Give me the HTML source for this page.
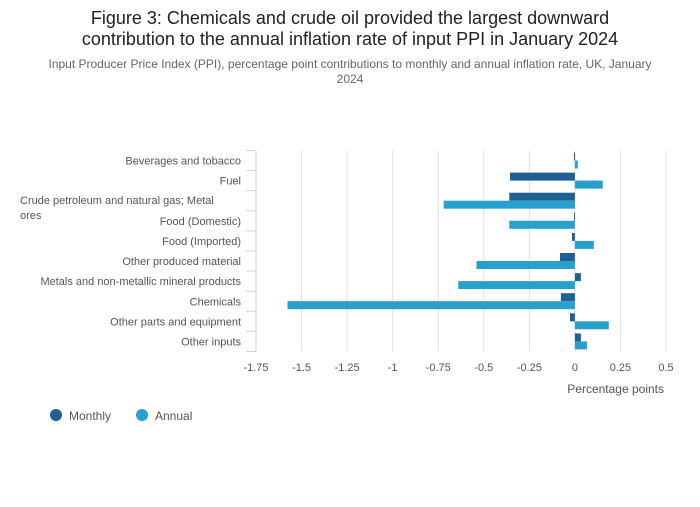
<!DOCTYPE html>
<html><head><meta charset="utf-8">
<style>
body{margin:0;background:#fff;width:700px;height:502px;overflow:hidden;font-family:"Liberation Sans",sans-serif;}
svg text{font-family:"Liberation Sans",sans-serif;}
</style></head>
<body>
<svg id="chart" width="700" height="502" xmlns="http://www.w3.org/2000/svg">
<text x="350" y="24" text-anchor="middle" font-size="18" fill="#222">Figure 3: Chemicals and crude oil provided the largest downward</text>
<text x="350" y="45" text-anchor="middle" font-size="18" fill="#222">contribution to the annual inflation rate of input PPI in January 2024</text>
<text x="350" y="68" text-anchor="middle" font-size="12" fill="#666">Input Producer Price Index (PPI), percentage point contributions to monthly and annual inflation rate, UK, January</text>
<text x="350" y="83" text-anchor="middle" font-size="12" fill="#666">2024</text>
<g id="grid"></g><g id="bars"></g><g id="axes"></g>
<text x="664" y="393" text-anchor="end" font-size="12" fill="#555">Percentage points</text>
<circle cx="56" cy="415" r="6" fill="#206095"/>
<text x="69" y="420" font-size="12" fill="#555">Monthly</text>
<circle cx="142" cy="415" r="6" fill="#27a0cc"/>
<text x="155" y="420" font-size="12" fill="#555">Annual</text>
</svg>
<script>
const categories=["Beverages and tobacco","Fuel","Crude petroleum and natural gas; Metal ores","Food (Domestic)","Food (Imported)","Other produced material","Metals and non-metallic mineral products","Chemicals","Other parts and equipment","Other inputs"];
const monthly=[-0.005,-0.356,-0.36,-0.005,-0.016,-0.082,0.033,-0.077,-0.027,0.033];
const annual=[0.016,0.153,-0.72,-0.36,0.104,-0.54,-0.64,-1.577,0.186,0.066];
const ticks=[-1.75,-1.5,-1.25,-1,-0.75,-0.5,-0.25,0,0.25,0.5];
const tickLabels=["-1.75","-1.5","-1.25","-1","-0.75","-0.5","-0.25","0","0.25","0.5"];
const NS="http://www.w3.org/2000/svg";
const x0=256,x1=666,dmin=-1.75,dmax=0.5,plotTop=150.5,band=20.1;
const X=v=>x0+(v-dmin)/(dmax-dmin)*(x1-x0);
const Y=i=>plotTop+i*band;
function mk(t,a,p){const e=document.createElementNS(NS,t);for(const k in a)e.setAttribute(k,a[k]);document.getElementById(p).appendChild(e);return e;}
ticks.forEach((t,i)=>{
 if(i>0){const g=mk('line',{x1:X(t),x2:X(t),y1:plotTop,y2:Y(10),stroke:'#e0e0e0'},'grid');
 
 }
 const l=mk('text',{x:X(t),y:371,'text-anchor':'middle','font-size':11,fill:'#555'},'axes');
 
 
 l.textContent=tickLabels[i];
});
const ax=mk('line',{x1:x0,x2:x0,y1:plotTop,y2:Y(10),stroke:'#ccd3e6'},'axes');


for(let i=0;i<=10;i++){const t=mk('line',{x1:x0-10,x2:x0,y1:Y(i),y2:Y(i),stroke:'#ccd3e6'},'axes');
 
 }
categories.forEach((c,i)=>{
 const yc=Y(i)+band/2;
 if(i===2){
  const a=mk('text',{x:20,y:yc+3,'font-size':11,fill:'#555'},'axes');
  
  
  a.textContent="Crude petroleum and natural gas; Metal";
  const b=mk('text',{x:20,y:yc+18,'font-size':11,fill:'#555'},'axes');
  
  
  b.textContent="ores";
 }else{
  const a=mk('text',{x:241,y:yc+4,'text-anchor':'end','font-size':11,fill:'#555'},'axes');
  
  
  a.textContent=c;
 }
 const bh=8,z=X(0);
 const m=mk('rect',{x:Math.min(z,X(monthly[i])),y:Y(i)+2,width:Math.max(1,Math.abs(X(monthly[i])-z)),height:bh,fill:'#206095'},'bars');
 
 
 const n=mk('rect',{x:Math.min(z,X(annual[i])),y:Y(i)+2+bh,width:Math.max(1,Math.abs(X(annual[i])-z)),height:bh,fill:'#27a0cc'},'bars');
 
 
});
</script>
</body></html>
